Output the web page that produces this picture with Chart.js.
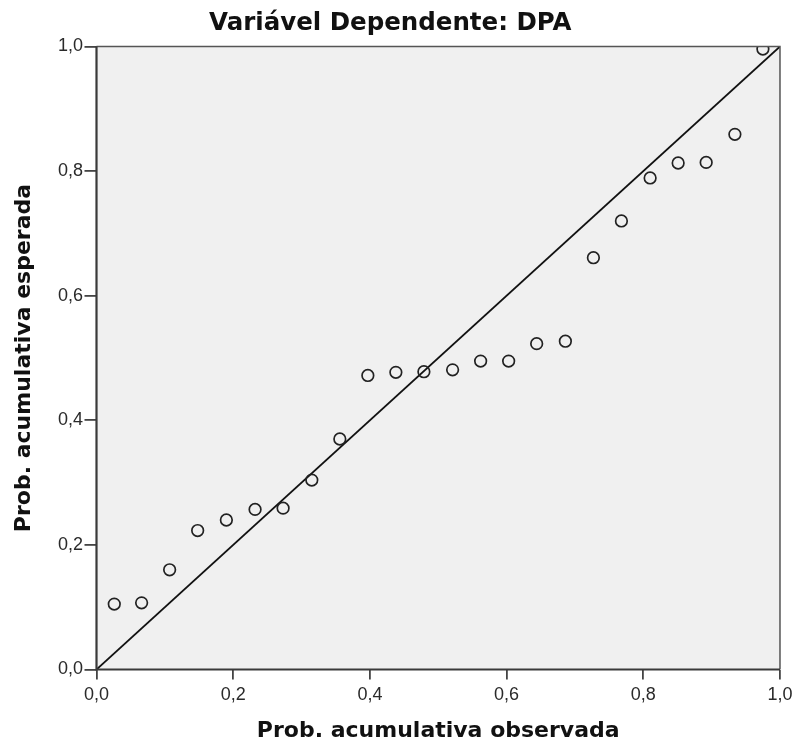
<!DOCTYPE html>
<html>
<head>
<meta charset="utf-8">
<script src="https://cdn.jsdelivr.net/npm/chart.js@4.4.0/dist/chart.umd.min.js"></script>
<style>
  body { margin: 0; background: #fff; }
</style>
</head>
<body>
<canvas id="canvas" width="797" height="745"></canvas>
<script>
var observada = [0.026, 0.066, 0.107, 0.148, 0.190, 0.232, 0.273, 0.315, 0.356, 0.397, 0.438, 0.479,
                 0.521, 0.562, 0.603, 0.644, 0.686, 0.727, 0.768, 0.810, 0.851, 0.892, 0.934, 0.975];
var esperada = [0.105, 0.107, 0.160, 0.223, 0.240, 0.257, 0.259, 0.304, 0.370, 0.472, 0.477, 0.478,
                0.481, 0.495, 0.495, 0.523, 0.527, 0.661, 0.720, 0.789, 0.813, 0.814, 0.859, 0.996];
var tickValues = [0, 0.2, 0.4, 0.6, 0.8, 1.0];
var refLine = [0, 1];

var pontos = [];
for (var i = 0; i < observada.length; i++) {
  pontos.push({x: observada[i], y: esperada[i]});
}
var diagonal = [];
for (var j = 0; j < refLine.length; j++) {
  diagonal.push({x: refLine[j], y: refLine[j]});
}

var fmt = function(v) {
  return v.toFixed(1).replace('.', ',');
};
var setTicks = function(axis) {
  axis.ticks = tickValues.map(function(v) { return {value: v}; });
};

// fundo cinza e moldura da área do gráfico
var plotFrame = {
  id: 'plotFrame',
  beforeDraw: function(chart) {
    var a = chart.chartArea, ctx = chart.ctx;
    ctx.save();
    ctx.fillStyle = '#f0f0f0';
    ctx.fillRect(a.left, a.top, a.right - a.left, a.bottom - a.top);
    ctx.restore();
  },
  afterDatasetsDraw: function(chart) {
    var a = chart.chartArea, ctx = chart.ctx;
    ctx.save();
    ctx.strokeStyle = '#555';
    ctx.lineWidth = 1.5;
    ctx.beginPath();
    ctx.moveTo(a.left, a.top);
    ctx.lineTo(a.right, a.top);
    ctx.lineTo(a.right, a.bottom);
    ctx.stroke();
    ctx.strokeStyle = '#3a3a3a';
    ctx.lineWidth = 2.2;
    ctx.beginPath();
    ctx.moveTo(a.left, a.top);
    ctx.lineTo(a.left, a.bottom);
    ctx.lineTo(a.right, a.bottom);
    ctx.stroke();
    ctx.restore();
  }
};

var ctx = document.getElementById('canvas').getContext('2d');

window.myChart = new Chart(ctx, {
  type: 'scatter',
  data: {
    datasets: [{
      label: 'Observado',
      data: pontos,
      showLine: false,
      pointStyle: 'circle',
      pointRadius: 5.8,
      pointHoverRadius: 5.8,
      pointBorderWidth: 1.7,
      pointBorderColor: '#222',
      pointBackgroundColor: 'rgba(0,0,0,0)'
    }, {
      type: 'line',
      label: 'Diagonal',
      data: diagonal,
      borderColor: '#111',
      borderWidth: 1.8,
      pointRadius: 0,
      fill: false
    }]
  },
  options: {
    responsive: false,
    animation: false,
    layout: {
      padding: {left: 0, right: 16.5, top: 0, bottom: 0}
    },
    plugins: {
      legend: { display: false },
      tooltip: { enabled: false },
      title: {
        display: true,
        text: 'Variável Dependente: DPA',
        color: '#111',
        font: { family: 'DejaVu Sans', size: 24.5, weight: 'bold' },
        padding: { top: 9.3, bottom: 7.8 }
      }
    },
    scales: {
      x: {
        type: 'linear',
        min: 0,
        max: 1,
        afterBuildTicks: setTicks,
        afterFit: function(scale) { scale.height = 75.5; },
        grid: { drawOnChartArea: false, tickLength: 10, color: '#444', lineWidth: 1.8 },
        border: { display: false },
        ticks: {
          color: '#2a2a2a',
          padding: 4.5,
          maxRotation: 0,
          font: { family: 'Liberation Sans', size: 18 },
          callback: function(v) { return fmt(v); }
        },
        title: {
          display: true,
          text: 'Prob. acumulativa observada',
          color: '#111',
          font: { family: 'DejaVu Sans', size: 22, weight: 'bold' },
          padding: { top: 0.3, bottom: 0.3 }
        }
      },
      y: {
        type: 'linear',
        min: 0,
        max: 1,
        afterBuildTicks: setTicks,
        afterFit: function(scale) { scale.width = 96.5; },
        grid: { drawOnChartArea: false, tickLength: 12, color: '#444', lineWidth: 1.8 },
        border: { display: false },
        ticks: {
          color: '#2a2a2a',
          padding: 1.5,
          font: { family: 'Liberation Sans', size: 18 },
          callback: function(v) { return fmt(v); }
        },
        title: {
          display: true,
          text: 'Prob. acumulativa esperada',
          color: '#111',
          font: { family: 'DejaVu Sans', size: 22, weight: 'bold' },
          padding: { top: 11, bottom: 11 }
        }
      }
    }
  },
  plugins: [plotFrame]
});
</script>
</body>
</html>
